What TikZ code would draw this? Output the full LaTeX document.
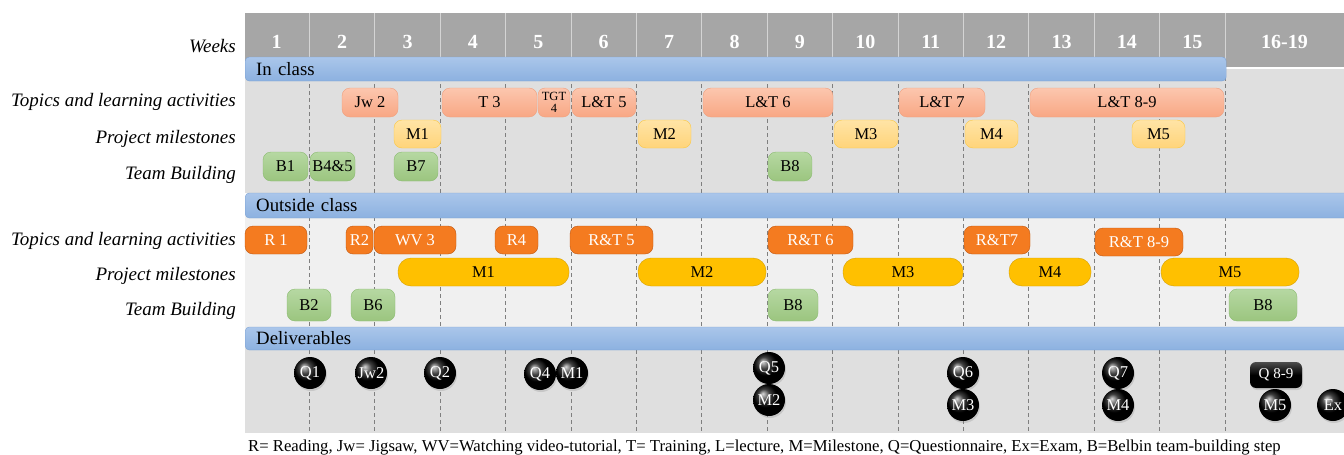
\documentclass[tikz,border=0pt]{standalone}
\usepackage{fontspec}
\setmainfont{Liberation Serif}
\usetikzlibrary{shadows}
\newcommand{\fsz}[1]{\fontsize{#1}{#1}\selectfont}
\definecolor{hdr}{HTML}{A6A6A6}
\definecolor{hdrsep}{HTML}{D4D4D4}
\definecolor{bgin}{HTML}{DFDFDF}
\definecolor{bgout}{HTML}{F0F0F0}
\definecolor{dashc}{HTML}{7F7F7F}
\definecolor{barT}{HTML}{AAC6EA}
\definecolor{barBot}{HTML}{8CB1E0}
\definecolor{barB}{HTML}{7DA2D4}
\definecolor{salT}{HTML}{FCC6AE}
\definecolor{salB}{HTML}{F8A784}
\definecolor{salD}{HTML}{F0A07E}
\definecolor{ylT}{HTML}{FFE4A6}
\definecolor{ylB}{HTML}{FFD47A}
\definecolor{ylD}{HTML}{FCC842}
\definecolor{grT}{HTML}{B6D8A2}
\definecolor{grB}{HTML}{9BC57F}
\definecolor{grD}{HTML}{8BBB71}
\definecolor{org}{HTML}{F47B20}
\definecolor{orgD}{HTML}{C05812}
\definecolor{gold}{HTML}{FFC000}
\definecolor{goldD}{HTML}{D6A000}
\tikzset{
  hnum/.style={text=white,font=\fsz{20}\bfseries},
  rowlab/.style={anchor=east,font=\fsz{19}\itshape,inner sep=0pt},
  barbox/.style={draw=barB,top color=barT,bottom color=barBot,rounded corners=4pt,
    inner xsep=11pt,inner ysep=0pt,align=left,font=\fsz{18.8},anchor=west},
  dl/.style={draw=dashc,line width=1pt,dash pattern=on 4pt off 3pt},
  boxbase/.style={inner sep=0pt,font=\fsz{16.5},rounded corners=8pt},
  icbox/.style={boxbase,draw=salD,top color=salT,bottom color=salB},
  icms/.style={boxbase,draw=ylD,top color=ylT,bottom color=ylB},
  grbox/.style={boxbase,draw=grD,top color=grT,bottom color=grB},
  ocbox/.style={boxbase,draw=orgD,fill=org,text=white},
  ocms/.style={boxbase,draw=goldD,fill=gold,rounded corners=13pt},
  dball/.style={circle,minimum size=32pt,inner sep=0pt,shading=ball,ball color=black,
    text=white,font=\fsz{16.5},drop shadow={opacity=0.25,shadow xshift=1pt,shadow yshift=-2pt}},
}
\begin{document}
\begin{tikzpicture}[x=1pt,y=-1pt]
\useasboundingbox (0,0) rectangle (1344,455);
% backgrounds
\fill[bgin] (245,67) rectangle (1344,193);
\fill[bgout] (245,205) rectangle (1344,338);
\fill[bgin] (245,338) rectangle (1344,433);
% header
\fill[hdr] (245,13) rectangle (1344,67);
\draw[white,line width=2pt] (1226,68) -- (1344,68);
\foreach \k in {1,...,14} \draw[hdrsep,line width=0.8pt] ({244+\k*65.4},13) -- ({244+\k*65.4},57);
\draw[hdrsep,line width=0.8pt] (1225,13) -- (1225,67);
\foreach \i in {1,...,15} \node[hnum] (h\i) at ({244+(\i-0.5)*65.4},42) {\i};
\node[hnum] (h16) at (1284.5,42) {16-19};
% dashed week lines
\foreach \k in {1,...,15} \draw[dl] ({244+\k*65.4},70) -- ({244+\k*65.4},433);
% bars
\node[barbox,text width=959pt,minimum height=24pt] (inclass) at (245,69) {In class};
\node[barbox,text width=1083pt,minimum height=25pt] (outclass) at (245,205.5) {Outside class};
\node[barbox,text width=1083pt,minimum height=23pt] (deliv) at (245,338.5) {Deliverables};
% row labels
\node[rowlab] (lweeks) at (236,46) {Weeks};
\node[rowlab] (lt1) at (236,102) {Topics and learning activities};
\node[rowlab] (lp1) at (236,139) {Project milestones};
\node[rowlab] (lb1) at (236,175) {Team Building};
\node[rowlab] (lt2) at (236,241) {Topics and learning activities};
\node[rowlab] (lp2) at (236,276) {Project milestones};
\node[rowlab] (lb2) at (236,311) {Team Building};
% in class topics
\node[icbox,minimum width=56pt,minimum height=29pt] (jw2) at (370,102.5) {Jw 2};
\node[icbox,minimum width=95pt,minimum height=29pt] (t3) at (489.5,102.5) {T 3};
\node[icbox,minimum width=32pt,minimum height=29pt,align=center,font=\fsz{12.5},rounded corners=7pt] (tgt4) at (554,102.5) {TGT\\[-1pt]4};
\node[icbox,minimum width=64pt,minimum height=29pt] (lt5) at (604,102.5) {L\&T 5};
\node[icbox,minimum width=130pt,minimum height=29pt] (lt6) at (768,102.5) {L\&T 6};
\node[icbox,minimum width=86pt,minimum height=29pt] (lt7) at (942,102.5) {L\&T 7};
\node[icbox,minimum width=194pt,minimum height=29pt] (lt89) at (1127,102.5) {L\&T 8-9};
% in class milestones
\node[icms,minimum width=47pt,minimum height=28pt] (im1) at (417.5,134) {M1};
\node[icms,minimum width=53pt,minimum height=28pt] (im2) at (664.5,134) {M2};
\node[icms,minimum width=64pt,minimum height=28pt] (im3) at (866,134) {M3};
\node[icms,minimum width=53pt,minimum height=28pt] (im4) at (991.5,134) {M4};
\node[icms,minimum width=53pt,minimum height=28pt] (im5) at (1158.5,134) {M5};
% in class team building
\node[grbox,minimum width=45pt,minimum height=29pt] (ib1) at (285.5,166.5) {B1};
\node[grbox,minimum width=45pt,minimum height=29pt] (ib45) at (332.5,166.5) {B4\&5};
\node[grbox,minimum width=44pt,minimum height=29pt] (ib7) at (416,166.5) {B7};
\node[grbox,minimum width=44pt,minimum height=29pt] (ib8) at (790,166.5) {B8};
% outside topics
\node[ocbox,minimum width=62pt,minimum height=28pt] (r1) at (276,240) {R 1};
\node[ocbox,minimum width=27pt,minimum height=28pt,rounded corners=7pt] (r2) at (359.5,240) {R2};
\node[ocbox,minimum width=82pt,minimum height=28pt] (wv3) at (415,240) {WV 3};
\node[ocbox,minimum width=43pt,minimum height=28pt] (r4) at (516.5,240) {R4};
\node[ocbox,minimum width=83pt,minimum height=28pt] (rt5) at (611.5,240) {R\&T 5};
\node[ocbox,minimum width=85pt,minimum height=28pt] (rt6) at (810.5,240) {R\&T 6};
\node[ocbox,minimum width=66pt,minimum height=28pt] (rt7) at (997,240) {R\&T7};
\node[ocbox,minimum width=88pt,minimum height=28pt] (rt89) at (1139,242) {R\&T 8-9};
% outside milestones
\node[ocms,minimum width=171pt,minimum height=28pt] (om1) at (483.5,272) {M1};
\node[ocms,minimum width=128pt,minimum height=28pt] (om2) at (702,272) {M2};
\node[ocms,minimum width=120pt,minimum height=28pt] (om3) at (903,272) {M3};
\node[ocms,minimum width=82pt,minimum height=28pt] (om4) at (1050,272) {M4};
\node[ocms,minimum width=138pt,minimum height=28pt] (om5) at (1230,272) {M5};
% outside team building
\node[grbox,minimum width=44pt,minimum height=32pt] (ob2) at (309,305) {B2};
\node[grbox,minimum width=44pt,minimum height=32pt] (ob6) at (373,305) {B6};
\node[grbox,minimum width=50pt,minimum height=32pt] (ob8) at (793,305) {B8};
\node[grbox,minimum width=68pt,minimum height=32pt] (ob8b) at (1263,305) {B8};
% deliverables
\node[dball] (dq1) at (310,373) {Q1};
\node[dball] (djw2) at (371,373) {Jw2};
\node[dball] (dq2) at (440,373) {Q2};
\node[dball] (dq4) at (540,374) {Q4};
\node[dball] (dm1) at (572,373) {M1};
\node[dball] (dq5) at (769,368) {Q5};
\node[dball] (dm2) at (769,400) {M2};
\node[dball] (dq6) at (963,373) {Q6};
\node[dball] (dm3) at (963,405) {M3};
\node[dball] (dq7) at (1118,373) {Q7};
\node[dball] (dm4) at (1118,405) {M4};
\node[dball,rectangle,rounded corners=6pt,minimum width=52pt,minimum height=26pt,shading=axis,top color=black!70,bottom color=black,middle color=black,font=\fsz{15}] (dq89) at (1276,375) {Q 8-9};
\node[dball] (dm5) at (1275,405) {M5};
\node[dball] (dex) at (1333,405) {Ex};
% caption
\node[anchor=base west,inner sep=0pt,font=\fsz{16.7}] (caption) at (248,451) {R= Reading, Jw= Jigsaw, WV=Watching video-tutorial, T= Training, L=lecture, M=Milestone, Q=Questionnaire, Ex=Exam, B=Belbin team-building step};
\end{tikzpicture}
\end{document}
